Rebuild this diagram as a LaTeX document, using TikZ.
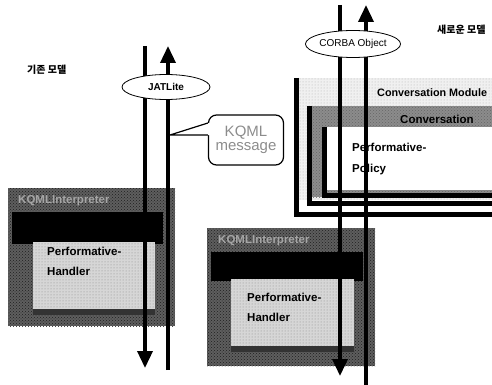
\documentclass[tikz,border=0pt]{standalone}
\usepackage{fontspec}
\setmainfont{Liberation Sans}
\newfontfamily\krfont{Noto Sans CJK KR}
\usetikzlibrary{arrows.meta,shapes.geometric,patterns}

\tikzstyle{frame}=[fill=black!63,postaction={pattern=crosshatch dots,pattern color=black!88},inner sep=0pt,anchor=north west]
\tikzstyle{core}=[fill=black,inner sep=0pt,anchor=north west]
\tikzstyle{panel}=[fill=black!16,postaction={pattern=dots,pattern color=black!45},inner sep=0pt,anchor=north west]
\tikzstyle{card}=[inner sep=0pt,anchor=north west]
\tikzstyle{cardedge}=[line width=5pt,line join=miter]
\tikzstyle{wire}=[line width=3.5pt]
\tikzstyle{flow}=[wire,-{Triangle[width=15pt,length=17pt]}]
\tikzstyle{bubble}=[draw,thick,ellipse,fill=white,inner sep=0pt]
\tikzstyle{tag}=[font=\bfseries\fontsize{11.5}{13}\selectfont,anchor=west,inner sep=0pt]
\tikzstyle{dimtag}=[tag,text=black!35]
\tikzstyle{modeltag}=[font=\krfont\bfseries\fontsize{10}{11}\selectfont,anchor=west,inner sep=0pt]
\newcommand{\pxunit}{1pt}

\begin{document}
\begin{tikzpicture}[x=\pxunit, y=-\pxunit]
    \useasboundingbox (0,0) rectangle (492,385);

    % old model
    \node[modeltag] (oldtag) at (27,70) {기존 모델};
    \node[frame, minimum width=167pt, minimum height=138pt] (oldkqml) at (8,188) {};
    \node[core, minimum width=151pt, minimum height=32pt] (oldcore) at (12,212) {};
    \node[panel, minimum width=122pt, minimum height=70pt] (oldpanel) at (33,242) {};
    \draw[line width=6pt, black!80] (oldpanel.south west) -- (oldpanel.south east);
    \node[dimtag] (oldlabel) at (18,201) {KQMLInterpreter};
    \node[tag] (oldperf) at (47,251) {Performative-};
    \node[tag] (oldhand) at (47,271) {Handler};

    % new model: conversation stack
    \node[modeltag] (newtag) at (437,30) {새로운 모델};
    \node[card, fill=black!6, postaction={pattern=dots,pattern color=black!30},
          minimum width=196pt, minimum height=122pt] (module) at (296,78) {};
    \draw[cardedge] (module.north west) -- ([yshift=-14pt]module.south west) -- ([yshift=-14pt]module.south east);
    \node[card, fill=black!45, postaction={pattern=crosshatch dots,pattern color=black!60},
          minimum width=183pt, minimum height=91pt] (conv) at (309,106) {};
    \draw[cardedge] (conv.north west) -- ([yshift=-6.5pt]conv.south west) -- ([yshift=-6.5pt]conv.south east);
    \node[card, fill=white, minimum width=168pt, minimum height=63pt] (policy) at (324,127) {};
    \draw[cardedge] (policy.north west) -- ([yshift=-5.5pt]policy.south west) -- ([yshift=-5.5pt]policy.south east);
    \node[tag, font=\bfseries\fontsize{10.8}{13}\selectfont] (modlabel) at (377,93) {Conversation Module};
    \node[tag] (convlabel) at (400,119) {Conversation};
    \node[tag] (polperf) at (352,147) {Performative-};
    \node[tag] (polname) at (352,170) {Policy};

    % new model: interpreter box
    \node[frame, minimum width=168pt, minimum height=138pt] (newkqml) at (207,228) {};
    \node[core, minimum width=152pt, minimum height=29pt] (newcore) at (211,252) {};
    \node[panel, minimum width=123pt, minimum height=70pt] (newpanel) at (231,279) {};
    \draw[line width=6pt, black!80] (newpanel.south west) -- (newpanel.south east);
    \node[dimtag] (newlabel) at (218,241) {KQMLInterpreter};
    \node[tag] (newperf) at (247,297) {Performative-};
    \node[tag] (newhand) at (247,317) {Handler};

    % message paths
    \coordinate (oldAtop) at (145,46);
    \coordinate (oldAbot) at (145,368);
    \coordinate (oldBtop) at (168,46);
    \coordinate (oldBbot) at (168,370);
    \coordinate (newCtop) at (340,5);
    \coordinate (newCbot) at (340,376);
    \coordinate (newDtop) at (366,5);
    \coordinate (newDbot) at (366,385);
    \draw[flow] (oldAtop) -- (oldAbot);
    \draw[flow] (oldBbot) -- (oldBtop);
    \draw[flow] (newCtop) -- (newCbot);
    \draw[flow] (newDbot) -- (newDtop);

    % transport layers
    \node[bubble, minimum width=88pt, minimum height=25pt, font=\bfseries\fontsize{10}{11}\selectfont] (jatlite) at (166,87) {JATLite};
    \node[bubble, minimum width=86pt, minimum height=27pt, font=\fontsize{10}{11}\selectfont] (corba) at (353,44) {CORBA Object};

    % message callout
    \node[draw, line width=1.2pt, rounded corners=8pt, minimum width=75pt, minimum height=50pt,
          text=black!45, align=center, inner sep=0pt] (msg) at (246,140)
          {{\fontsize{15}{17}\selectfont KQML}\\[2pt]{\fontsize{15}{16}\selectfont message}};
    \coordinate (msgtip) at (170,135);
    \fill[white] (msgtip) -- (msg.west |- 0,123) -- ([xshift=2pt]msg.west |- 0,123) -- ([xshift=2pt]msg.west |- 0,135) -- (msg.west |- 0,135) -- cycle;
    \draw[line width=1.2pt] (msg.west |- 0,123) -- (msgtip) -- (msg.west |- 0,135);
\end{tikzpicture}
\end{document}
